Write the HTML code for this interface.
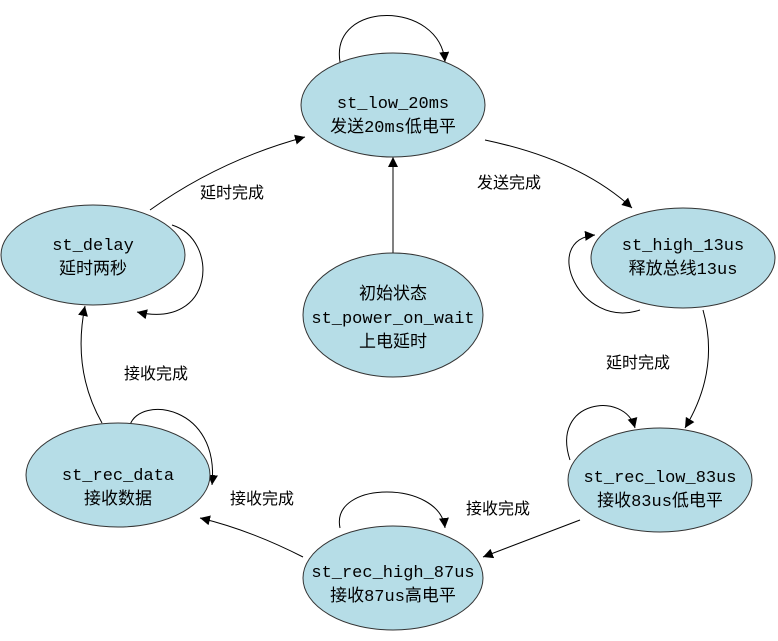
<!DOCTYPE html>
<html><head><meta charset="utf-8"><style>
html,body{margin:0;padding:0;background:#fff;width:778px;height:641px;overflow:hidden}
text{font-family:"Liberation Mono","Noto Sans CJK SC",monospace;font-size:17px;fill:#000}
.l{font-family:"Liberation Sans","Noto Sans CJK SC",sans-serif;font-size:16px}
</style></head><body>
<svg width="778" height="641" viewBox="0 0 778 641" xmlns="http://www.w3.org/2000/svg">
<defs><marker id="a" viewBox="0 0 10 10" refX="10" refY="5" markerWidth="10" markerHeight="10" markerUnits="userSpaceOnUse" orient="auto"><path d="M0,0 L10,5 L0,10 z" fill="#000"/></marker></defs>
<g fill="none" stroke="#000" stroke-width="1" marker-end="url(#a)">
<path d="M340,62 C330,0 440,0 445,62"/>
<path d="M485,140 Q580,160 632,208"/>
<path d="M640,310 C580,330 540,240 595,235"/>
<path d="M703,310 Q720,370 685,428"/>
<path d="M570,460 C550,400 625,390 635,428"/>
<path d="M580,520 L483,557"/>
<path d="M340,528 C330,480 440,480 445,528"/>
<path d="M303,557 Q250,530 200,518"/>
<path d="M130,425 C140,395 220,405 212,485"/>
<path d="M102,423 Q72,370 85,306"/>
<path d="M172,225 C220,240 215,330 137,312"/>
<path d="M150,210 Q220,160 305,137"/>
<path d="M393,253 L393,157"/>
</g>
<g fill="#b6dde7" stroke="#333" stroke-width="1">
<ellipse cx="393" cy="105" rx="92" ry="52"/>
<ellipse cx="683" cy="258" rx="92" ry="50"/>
<ellipse cx="660" cy="480" rx="92" ry="52"/>
<ellipse cx="393" cy="578" rx="90" ry="52"/>
<ellipse cx="118" cy="475" rx="92" ry="52"/>
<ellipse cx="93" cy="255" rx="92" ry="50"/>
<ellipse cx="393" cy="315" rx="90" ry="62"/>
</g>
<g text-anchor="middle">
<text x="393" y="108">st_low_20ms</text><text x="393" y="132">发送20ms低电平</text>
<text x="683" y="250">st_high_13us</text><text x="683" y="274">释放总线13us</text>
<text x="660" y="482">st_rec_low_83us</text><text x="660" y="506">接收83us低电平</text>
<text x="393" y="577">st_rec_high_87us</text><text x="393" y="601">接收87us高电平</text>
<text x="118" y="480">st_rec_data</text><text x="118" y="504">接收数据</text>
<text x="93" y="250">st_delay</text><text x="93" y="274">延时两秒</text>
<text x="393" y="299">初始状态</text><text x="393" y="323">st_power_on_wait</text><text x="393" y="347">上电延时</text>
</g>
<text class="l" x="477" y="188">发送完成</text>
<text class="l" x="606" y="368">延时完成</text>
<text class="l" x="466" y="514">接收完成</text>
<text class="l" x="230" y="504">接收完成</text>
<text class="l" x="124" y="379">接收完成</text>
<text class="l" x="200" y="198">延时完成</text>
</svg>
</body></html>
